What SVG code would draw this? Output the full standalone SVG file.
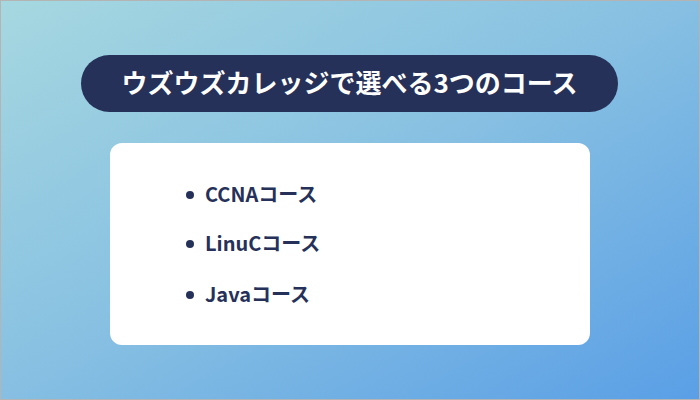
<svg xmlns="http://www.w3.org/2000/svg" width="700" height="400" viewBox="0 0 700 400">
<defs>
<linearGradient id="bg" x1="0" y1="0" x2="1" y2="1">
<stop offset="0" stop-color="#a6d8e0"/>
<stop offset="0.5" stop-color="#86bfe2"/>
<stop offset="1" stop-color="#5a9fe6"/>
</linearGradient>
<style>
.t{font-family:"Noto Sans CJK JP","Noto Sans",sans-serif;font-weight:bold}
.i{fill:#263159;font-size:20px}
</style>
</defs>
<rect x="0.5" y="0.5" width="699" height="399" fill="url(#bg)" stroke="#b4b4b4"/>
<g id="title">
<rect x="81" y="55" width="537" height="57" rx="28.5" fill="#263159"/>
<text class="t" x="349.5" y="93" font-size="26" fill="#fff" text-anchor="middle">ウズウズカレッジで選べる3つのコース</text>
</g>
<g id="list">
<rect x="110" y="143" width="480" height="202" rx="12" fill="#fff"/>
<circle cx="190" cy="195" r="4" fill="#263159"/>
<circle cx="190" cy="244" r="4" fill="#263159"/>
<circle cx="190" cy="295" r="4" fill="#263159"/>
<text class="t i" x="205" y="202">CCNAコース</text>
<text class="t i" x="205" y="251">LinuCコース</text>
<text class="t i" x="205" y="302">Javaコース</text>
</g>
</svg>
